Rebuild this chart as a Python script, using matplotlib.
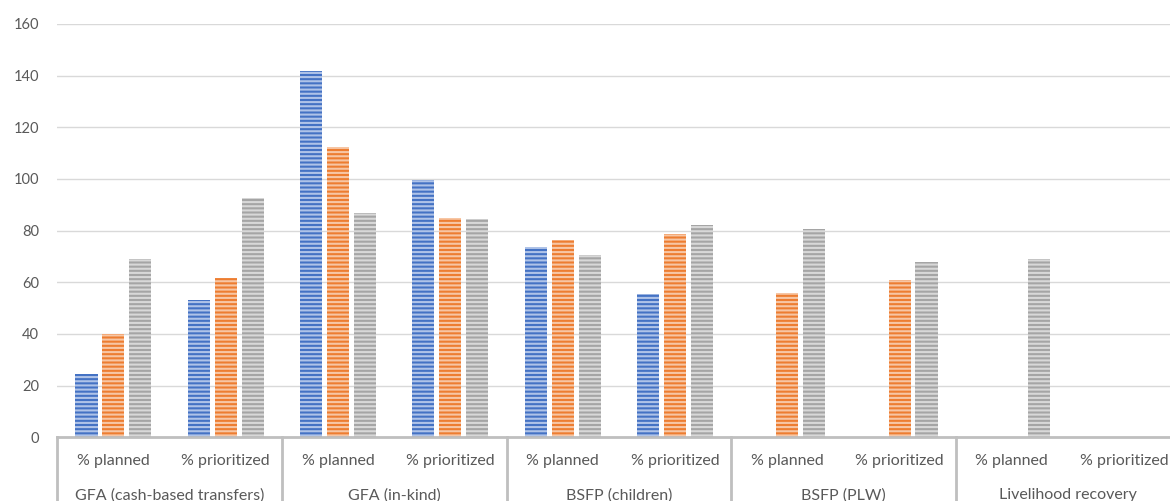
import matplotlib
matplotlib.use('Agg')
import matplotlib.pyplot as plt
import numpy as np

plt.rcParams['font.family'] = ['Lato', 'DejaVu Sans']
plt.rcParams['hatch.linewidth'] = 1.5

# Programme activities and the two measures shown under each
groups = ['GFA (cash-based transfers)', 'GFA (in-kind)', 'BSFP (children)',
          'BSFP (PLW)', 'Livelihood recovery']
measures = ['% planned', '% prioritized']

# Three series per measure (None = no value reported)
series_blue = [24.5, 53.2, 141.8, 99.5, 73.5, 55.5, None, None, None, None]
series_orange = [40.0, 61.8, 112.3, 85.0, 76.3, 78.6, 55.9, 60.8, None, None]
series_gray = [69.1, 92.8, 87.0, 84.7, 70.5, 82.3, 80.5, 67.8, 69.1, None]

colors = ['#4472C4', '#ED7D31', '#A5A5A5']
stripe = ['#AFC3E8', '#F7C6A4', '#D8D8D8']

W, H = 1170, 501
fig = plt.figure(figsize=(W / 100, H / 100), dpi=100)
left, right = 57.3, 1180.3
bottom, top = 437.3, 24.0
ax = fig.add_axes([left / W, 1 - bottom / H, (right - left) / W, (bottom - top) / H])

n = len(groups) * len(measures)
x = np.arange(n)
width = 0.196
offsets = [-0.24, 0.0, 0.24]

for vals, off, c, sc in zip([series_blue, series_orange, series_gray], offsets, colors, stripe):
    xs = [xi + off for xi, v in zip(x, vals) if v is not None]
    hs = [v for v in vals if v is not None]
    ax.bar(xs, hs, width, color=c, edgecolor=sc, linewidth=0, hatch='----', zorder=3)

ax.set_xlim(-0.5, n - 0.5)
ax.set_ylim(0, 160)
ax.set_yticks(range(0, 161, 20))
ax.set_xticks([])
ax.tick_params(axis='y', length=0, pad=13, labelsize=10.5, labelcolor='#595959')
ax.grid(axis='y', color='#D9D9D9', linewidth=1.0, zorder=0)
for s in ['top', 'right', 'left']:
    ax.spines[s].set_visible(False)
ax.spines['bottom'].set_color('#BFBFBF')
ax.spines['bottom'].set_linewidth(2.0)
ax.spines['bottom'].set_zorder(4)

# Two-level category axis drawn below the plot
px = 1.0 / (bottom - top)
trans = ax.get_xaxis_transform()
for i in range(n):
    ax.text(i, -24 * px, measures[i % 2], transform=trans, ha='center', va='center',
            fontsize=11.5, color='#595959')
for g, name in enumerate(groups):
    ax.text(2 * g + 0.5, -58 * px, name, transform=trans, ha='center', va='center',
            fontsize=11.5, color='#595959')
for g in range(len(groups) + 1):
    ax.plot([2 * g - 0.5, 2 * g - 0.5], [0, -80 * px], transform=trans, color='#BFBFBF',
            linewidth=2.0, clip_on=False, zorder=4)

fig.savefig('out.png', dpi=100)
